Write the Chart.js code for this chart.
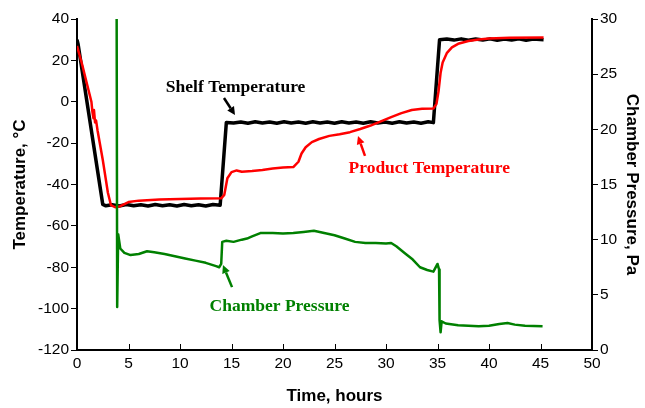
<!DOCTYPE html>
<html>
<head>
<meta charset="utf-8">
<script src="https://cdn.jsdelivr.net/npm/chart.js@4"></script>
<style>
  html, body { margin: 0; padding: 0; background: #fff; }
  canvas { display: block; }
</style>
</head>
<body>
<canvas id="dryingChart" width="645" height="408"></canvas>
<script>
// Freeze-drying run: shelf / product temperature (left axis) and chamber pressure (right axis)
const shelfHours = [0, 0.1, 2.5, 2.8, 3.4, 4.1, 4.8, 5.5, 6.2, 6.9, 7.6, 8.3, 9, 9.7, 10.4, 11.1, 11.8, 12.5, 13.2, 13.9,
  14.5, 15.2, 15.9, 16.6, 17.3, 18, 18.7, 19.4, 20.1, 20.8, 21.5, 22.2, 22.9, 23.6, 24.3, 25, 25.7, 26.4, 27.1, 27.8,
  28.5, 29.2, 29.9, 30.6, 31.3, 32, 32.7, 33.4, 34.1, 34.6,
  35.2, 35.9, 36.6, 37.3, 38, 38.7, 39.4, 40.1, 40.8, 41.5, 42.2, 42.9, 43.6, 44.3, 45.3];
const shelfTemp = [30, 28, -49.6, -50.3, -49.8, -50.4, -49.7, -50.3, -49.8, -50.4, -49.7, -50.3, -49.8, -50.4, -49.7, -50.3, -49.8, -50.4, -49.7, -50,
  -10, -10.3, -9.8, -10.4, -9.7, -10.3, -9.8, -10.4, -9.7, -10.3, -9.8, -10.4, -9.7, -10.3, -9.8, -10.4, -9.7, -10.3, -9.8, -10.4,
  -9.7, -10.3, -9.8, -10.4, -9.7, -10.3, -9.8, -10.4, -9.7, -10.1,
  30, 30.3, 29.8, 30.4, 29.7, 30.3, 29.8, 30.4, 29.7, 30.3, 29.8, 30.4, 29.7, 30.3, 30];

const productHours = [0, 0.5, 1.0, 1.4, 1.5, 1.6, 1.65, 1.75, 1.85, 2.0, 2.5, 3.0, 3.3, 3.7, 4.2, 5, 6, 8, 10, 12, 14,
  14.3, 14.6, 15, 15.5, 16, 17, 18, 19, 20, 21, 21.5, 21.8, 22.2, 22.8, 23.5, 24.5, 25.5, 26.5, 27.5, 28.5, 29.5,
  30.5, 31.5, 32.5, 33.5, 34.6, 34.9, 35.1, 35.3, 35.5, 35.9, 36.4, 37, 38, 39, 40, 42, 45.3];
const productTemp = [27, 18, 8, 0, -5, -8, -4, -10, -9, -14, -28, -44, -50, -51, -50.5, -48.5, -47.8, -47.3, -47, -46.8, -46.7,
  -45, -37, -34, -33.2, -33.8, -33.5, -33, -32.3, -31.8, -31.6, -29, -25, -22, -19.5, -18, -16.5, -15.7, -14.7, -13.2, -11.5, -9.5,
  -7.4, -5.5, -4, -3.4, -3.3, -1, 5, 14, 19, 23.5, 26.3, 28, 29.4, 30.1, 30.6, 30.9, 31];

const pressureHours = [3.85, 3.9, 3.97, 4.0, 4.2, 4.6, 5.2, 6, 6.8, 7.5, 8.5, 9.5, 10.5, 11.5, 12.5, 13.5, 13.8, 14.0,
  14.1, 14.5, 15.2, 16, 16.5, 17, 17.8, 19, 20, 21, 22, 23, 24, 25, 26, 27, 28, 29, 30, 30.5, 31, 31.8, 32.6, 33.3,
  34, 34.6, 35.0, 35.15, 35.2, 35.3, 35.4, 35.8, 37, 38, 39, 40, 41, 41.8, 42.5, 43.5, 45.2];
const pressurePa = [30, 3.9, 3.9, 10.5, 9.2, 8.8, 8.6, 8.7, 8.95, 8.85, 8.7, 8.5, 8.3, 8.1, 7.9, 7.6, 7.5, 7.8,
  9.8, 9.9, 9.8, 10.0, 10.1, 10.3, 10.6, 10.6, 10.55, 10.6, 10.7, 10.8, 10.6, 10.4, 10.1, 9.8, 9.7, 9.7, 9.65, 9.7, 9.4, 8.8, 8.2, 7.5,
  7.25, 7.1, 7.8, 7.3, 2.7, 1.6, 2.6, 2.4, 2.25, 2.2, 2.15, 2.2, 2.35, 2.45, 2.3, 2.2, 2.15];

const timeTicks = [0, 5, 10, 15, 20, 25, 30, 35, 40, 45, 50];

const toPoints = (xs, ys) => xs.map((x, i) => ({ x, y: ys[i] }));

// callouts in data units: label anchor, arrow tail and arrow head
const callouts = [
  { text: 'Shelf Temperature', color: '#000000', axis: 'y', at: [15.4, 4.7], tail: [14.27, 1.8], head: [15.34, -6.4] },
  { text: 'Product Temperature', color: '#ff0000', axis: 'y', at: [34.2, -34.4], tail: [27.96, -26.2], head: [27.28, -16.6] },
  { text: 'Chamber Pressure', color: '#008000', axis: 'y2', at: [19.66, 3.53], tail: [15.05, 5.7], head: [14.17, 7.7] },
];

const drawArrow = (ctx, x0, y0, x1, y1, color) => {
  const ang = Math.atan2(y1 - y0, x1 - x0);
  const len = 8, half = 4;
  const bx = x1 - len * Math.cos(ang), by = y1 - len * Math.sin(ang);
  ctx.strokeStyle = color;
  ctx.fillStyle = color;
  ctx.lineWidth = 2.5;
  ctx.beginPath();
  ctx.moveTo(x0, y0);
  ctx.lineTo(bx, by);
  ctx.stroke();
  ctx.beginPath();
  ctx.moveTo(x1, y1);
  ctx.lineTo(bx + half * Math.sin(ang), by - half * Math.cos(ang));
  ctx.lineTo(bx - half * Math.sin(ang), by + half * Math.cos(ang));
  ctx.closePath();
  ctx.fill();
};

const extrasPlugin = {
  id: 'extras',
  afterDraw(chart) {
    const { ctx, scales } = chart;
    const xs = scales.x;
    const bottom = chart.chartArea.bottom;
    ctx.save();
    // inside tick marks on the time axis
    ctx.strokeStyle = '#000';
    ctx.lineWidth = 1;
    timeTicks.forEach(t => {
      const px = Math.round(xs.getPixelForValue(t)) + 0.5;
      ctx.beginPath();
      ctx.moveTo(px, bottom);
      ctx.lineTo(px, bottom - 6);
      ctx.stroke();
    });
    // callout labels with arrows
    ctx.font = 'bold 17.5px "Liberation Serif", "Times New Roman", serif';
    ctx.textAlign = 'center';
    ctx.textBaseline = 'alphabetic';
    callouts.forEach(c => {
      const ys = scales[c.axis];
      ctx.fillStyle = c.color;
      ctx.fillText(c.text, xs.getPixelForValue(c.at[0]), ys.getPixelForValue(c.at[1]));
      drawArrow(ctx,
        xs.getPixelForValue(c.tail[0]), ys.getPixelForValue(c.tail[1]),
        xs.getPixelForValue(c.head[0]), ys.getPixelForValue(c.head[1]), c.color);
    });
    ctx.restore();
  }
};

const tickFont = { family: '"Liberation Sans", Arial, sans-serif', size: 15.5 };
const titleFont = { family: '"Liberation Sans", Arial, sans-serif', size: 17, weight: 'bold' };

new Chart(document.getElementById('dryingChart'), {
  type: 'line',
  data: {
    datasets: [
      { label: 'Chamber Pressure', data: toPoints(pressureHours, pressurePa), yAxisID: 'y2',
        borderColor: '#008000', borderWidth: 2.5, order: 0 },
      { label: 'Product Temperature', data: toPoints(productHours, productTemp), yAxisID: 'y',
        borderColor: '#ff0000', borderWidth: 2.5, order: 1 },
      { label: 'Shelf Temperature', data: toPoints(shelfHours, shelfTemp), yAxisID: 'y',
        borderColor: '#000000', borderWidth: 3.5, order: 2 },
    ]
  },
  options: {
    responsive: false,
    animation: false,
    devicePixelRatio: 1,
    layout: { padding: { top: 19, left: 0, right: 0, bottom: 0 } },
    elements: { point: { radius: 0 }, line: { tension: 0, borderJoinStyle: 'round' } },
    plugins: { legend: { display: false }, tooltip: { enabled: false } },
    scales: {
      x: {
        type: 'linear', min: 0, max: 50,
        afterFit: s => { s.height = 58; },
        ticks: { stepSize: 5, font: tickFont, color: '#000', padding: 4, maxRotation: 0 },
        grid: { display: true, drawOnChartArea: false, drawTicks: false },
        border: { color: '#000', width: 2 },
        title: { display: true, text: 'Time, hours', font: titleFont, color: '#000', padding: { top: 0, bottom: 1 } }
      },
      y: {
        position: 'left', min: -120, max: 40,
        afterFit: s => { s.width = 77; },
        ticks: { stepSize: 20, font: tickFont, color: '#000', padding: 2 },
        grid: { drawOnChartArea: false, drawTicks: true, tickLength: 6, color: '#000' },
        border: { color: '#000', width: 2 },
        title: { display: true, text: 'Temperature, °C', font: titleFont, color: '#000', padding: { top: 10, bottom: 0 } }
      },
      y2: {
        position: 'right', min: 0, max: 30,
        afterFit: s => { s.width = 53; },
        ticks: { stepSize: 5, font: tickFont, color: '#000', padding: 2 },
        grid: { drawOnChartArea: false, drawTicks: true, tickLength: 6, color: '#000' },
        border: { color: '#000', width: 2 },
        title: { display: true, text: 'Chamber Pressure, Pa', font: titleFont, color: '#000', padding: { top: 3, bottom: 0 } }
      }
    }
  },
  plugins: [extrasPlugin]
});
</script>
</body>
</html>
